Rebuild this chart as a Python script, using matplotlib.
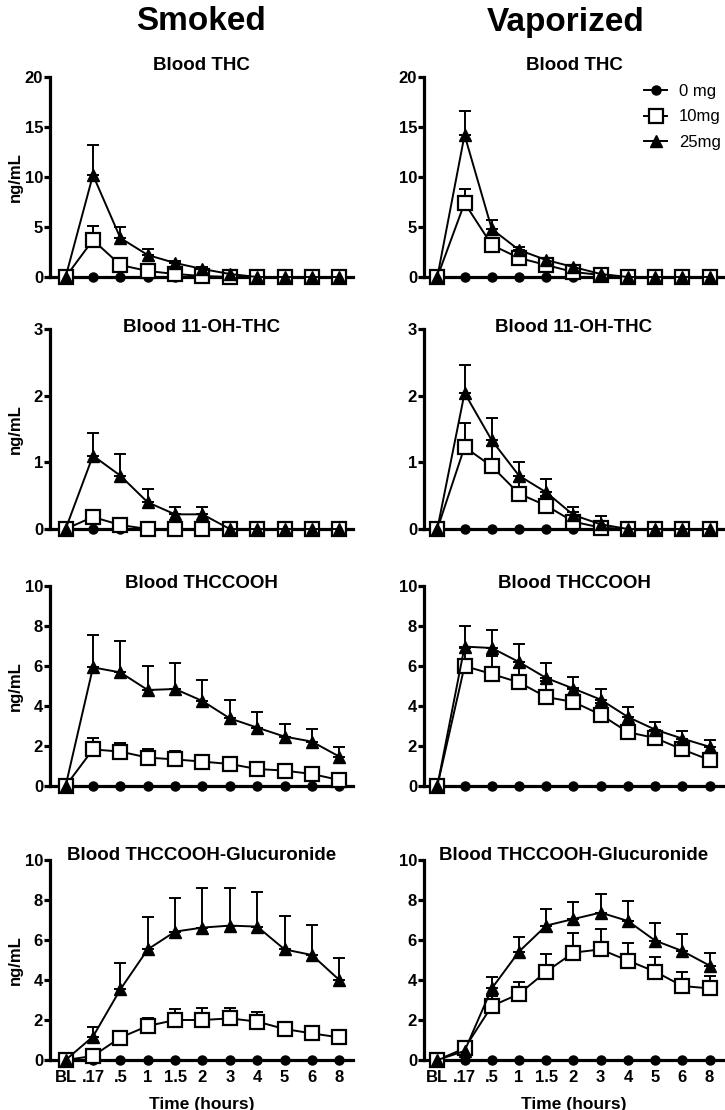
import numpy as np
import matplotlib
matplotlib.use('Agg')
import matplotlib.pyplot as plt

plt.rcParams['font.family'] = ['Liberation Sans', 'DejaVu Sans']

# ---------------- data ----------------
time_labels = ['BL', '.17', '.5', '1', '1.5', '2', '3', '4', '5', '6', '8']
column_titles = ['Smoked', 'Vaporized']
row_titles = ['Blood THC', 'Blood 11-OH-THC', 'Blood THCCOOH', 'Blood THCCOOH-Glucuronide']
dose_labels = ['0 mg', '10mg', '25mg']
row_yticks = [[0, 5, 10, 15, 20], [0, 1, 2, 3], [0, 2, 4, 6, 8, 10], [0, 2, 4, 6, 8, 10]]
y_label = 'ng/mL'
x_label = 'Time (hours)'

placebo = [0, 0, 0, 0, 0, 0, 0, 0, 0, 0, 0]

# Blood THC
smk_thc_10 = [0, 3.7, 1.2, 0.6, 0.3, 0.1, 0, 0, 0, 0, 0]
smk_thc_10_err = [0, 1.4, 0.15, 0.1, 0.05, 0, 0, 0, 0, 0, 0]
smk_thc_25 = [0, 10.2, 3.9, 2.2, 1.4, 0.8, 0.3, 0, 0, 0, 0]
smk_thc_25_err = [0, 3.0, 1.1, 0.6, 0.25, 0.2, 0.05, 0, 0, 0, 0]
vap_thc_10 = [0, 7.4, 3.2, 1.9, 1.2, 0.5, 0.2, 0, 0, 0, 0]
vap_thc_10_err = [0, 1.4, 0.3, 0.2, 0.15, 0.1, 0, 0, 0, 0, 0]
vap_thc_25 = [0, 14.2, 4.8, 2.7, 1.7, 1.0, 0.3, 0, 0, 0, 0]
vap_thc_25_err = [0, 2.4, 0.9, 0.3, 0.2, 0.15, 0.05, 0, 0, 0, 0]

# Blood 11-OH-THC
smk_oh_10 = [0, 0.18, 0.06, 0, 0, 0, 0, 0, 0, 0, 0]
smk_oh_10_err = [0, 0.04, 0.02, 0, 0, 0, 0, 0, 0, 0, 0]
smk_oh_25 = [0, 1.1, 0.8, 0.4, 0.22, 0.22, 0, 0, 0, 0, 0]
smk_oh_25_err = [0, 0.34, 0.32, 0.2, 0.11, 0.11, 0, 0, 0, 0, 0]
vap_oh_10 = [0, 1.23, 0.94, 0.53, 0.35, 0.11, 0.02, 0, 0, 0, 0]
vap_oh_10_err = [0, 0.36, 0.3, 0.18, 0.15, 0.15, 0.05, 0, 0, 0, 0]
vap_oh_25 = [0, 2.04, 1.33, 0.8, 0.55, 0.21, 0.07, 0, 0, 0, 0]
vap_oh_25_err = [0, 0.42, 0.34, 0.2, 0.2, 0.12, 0.12, 0, 0, 0, 0]

# Blood THCCOOH
smk_cooh_10 = [0, 1.83, 1.72, 1.42, 1.33, 1.22, 1.1, 0.85, 0.77, 0.6, 0.3]
smk_cooh_10_err = [0, 0.55, 0.45, 0.41, 0.42, 0.3, 0.28, 0.15, 0.12, 0.1, 0.08]
smk_cooh_25 = [0, 5.93, 5.68, 4.8, 4.85, 4.25, 3.38, 2.92, 2.47, 2.22, 1.47]
smk_cooh_25_err = [0, 1.6, 1.55, 1.2, 1.3, 1.05, 0.92, 0.76, 0.61, 0.61, 0.5]
vap_cooh_10 = [0, 6.0, 5.6, 5.18, 4.45, 4.2, 3.57, 2.69, 2.4, 1.83, 1.3]
vap_cooh_10_err = [0, 0.9, 0.9, 0.7, 0.8, 0.7, 0.6, 0.4, 0.4, 0.35, 0.3]
vap_cooh_25 = [0, 6.97, 6.9, 6.2, 5.4, 4.87, 4.32, 3.45, 2.82, 2.37, 1.96]
vap_cooh_25_err = [0, 1.03, 0.9, 0.9, 0.75, 0.6, 0.53, 0.48, 0.37, 0.37, 0.33]

# Blood THCCOOH-Glucuronide
smk_gluc_10 = [0, 0.2, 1.12, 1.7, 2.0, 2.0, 2.08, 1.92, 1.55, 1.33, 1.13]
smk_gluc_10_err = [0, 0.1, 0.1, 0.42, 0.53, 0.58, 0.54, 0.5, 0.37, 0.25, 0.1]
smk_gluc_25 = [0, 1.17, 3.53, 5.53, 6.42, 6.62, 6.72, 6.67, 5.53, 5.25, 4.0]
smk_gluc_25_err = [0, 0.5, 1.34, 1.64, 1.7, 1.96, 1.86, 1.75, 1.67, 1.5, 1.12]
vap_gluc_10 = [0, 0.58, 2.7, 3.3, 4.42, 5.37, 5.53, 4.97, 4.42, 3.7, 3.58]
vap_gluc_10_err = [0, 0.1, 0.5, 0.62, 0.86, 1.0, 1.0, 0.86, 0.71, 0.68, 0.62]
vap_gluc_25 = [0, 0.45, 3.58, 5.42, 6.72, 7.05, 7.37, 6.95, 5.97, 5.45, 4.72]
vap_gluc_25_err = [0, 0.05, 0.59, 0.75, 0.81, 0.87, 0.93, 1.0, 0.9, 0.83, 0.61]

panels = [
    [(smk_thc_10, smk_thc_10_err, smk_thc_25, smk_thc_25_err),
     (vap_thc_10, vap_thc_10_err, vap_thc_25, vap_thc_25_err)],
    [(smk_oh_10, smk_oh_10_err, smk_oh_25, smk_oh_25_err),
     (vap_oh_10, vap_oh_10_err, vap_oh_25, vap_oh_25_err)],
    [(smk_cooh_10, smk_cooh_10_err, smk_cooh_25, smk_cooh_25_err),
     (vap_cooh_10, vap_cooh_10_err, vap_cooh_25, vap_cooh_25_err)],
    [(smk_gluc_10, smk_gluc_10_err, smk_gluc_25, smk_gluc_25_err),
     (vap_gluc_10, vap_gluc_10_err, vap_gluc_25, vap_gluc_25_err)],
]

# ---------------- layout ----------------
W, H = 725, 1110
fig = plt.figure(figsize=(W / 100, H / 100), dpi=100)

col_left = [50, 424]
col_right = [353, 724]
col_xlim = [(-0.57, 10.5), (-0.49, 10.53)]
row_bottom = [277, 529, 786, 1060]
row_height = 200
title_offset = [11, 2, 2, 5]

LW_SPINE = 2.3
LW = 1.4
MS_C, MS_S, MS_T = 6.5, 9.5, 8.5
x = np.arange(len(time_labels))

for r in range(4):
    for c in range(2):
        l = col_left[c] / W
        w = (col_right[c] - col_left[c]) / W
        b = 1 - row_bottom[r] / H
        h = row_height / H
        ax = fig.add_axes([l, b, w, h])
        m10, e10, m25, e25 = [np.array(a, dtype=float) for a in panels[r][c]]
        yt = row_yticks[r]

        ax.plot(x, placebo, '-', color='black', lw=LW, marker='o', ms=MS_C,
                mfc='black', mec='black', clip_on=False, zorder=3)
        # 10 mg
        msk = e10 > 0
        ax.errorbar(x[msk], m10[msk], yerr=[np.zeros(msk.sum()), e10[msk]], fmt='none',
                    ecolor='black', elinewidth=LW, capsize=4.5, capthick=LW,
                    clip_on=False, zorder=2)
        ax.plot(x, m10, '-', color='black', lw=LW, marker='s', ms=MS_S,
                mfc='white', mec='black', mew=1.6, clip_on=False, zorder=4)
        # 25 mg
        msk = e25 > 0
        ax.errorbar(x[msk], m25[msk], yerr=[np.zeros(msk.sum()), e25[msk]], fmt='none',
                    ecolor='black', elinewidth=LW, capsize=4.5, capthick=LW,
                    clip_on=False, zorder=2)
        ax.plot(x, m25, '-', color='black', lw=LW, marker='^', ms=MS_T,
                mfc='black', mec='black', clip_on=False, zorder=5)

        ax.set_xlim(*col_xlim[c])
        ax.set_ylim(0, yt[-1])
        ax.set_yticks(yt)
        ax.set_yticklabels([str(v) for v in yt], fontsize=12, fontweight='bold')
        ax.set_xticks(x)
        if r == 3:
            ax.set_xticklabels(time_labels, fontsize=12, fontweight='bold')
            ax.set_xlabel(x_label, fontsize=12.5, fontweight='bold', labelpad=9)
        else:
            ax.set_xticklabels([])
        for s in ['top', 'right']:
            ax.spines[s].set_visible(False)
        for s in ['left', 'bottom']:
            ax.spines[s].set_linewidth(LW_SPINE)
        ax.tick_params(axis='y', direction='out', length=4, width=LW_SPINE, pad=1)
        ax.tick_params(axis='x', direction='out', length=0, width=LW_SPINE, pad=7)
        ax.patch.set_alpha(0)

        ax.text(0.5, 1 + title_offset[r] / row_height, row_titles[r], transform=ax.transAxes,
                ha='center', va='center', fontsize=13.5, fontweight='bold')
        if c == 0:
            fig.text(15 / W, 1 - (row_bottom[r] - row_height / 2) / H, y_label,
                     rotation=90, ha='center', va='center', fontsize=12, fontweight='bold')
        if r == 0 and c == 1:
            handles = [
                plt.Line2D([], [], color='black', lw=LW, marker='o', ms=MS_C, mfc='black'),
                plt.Line2D([], [], color='black', lw=LW, marker='s', ms=MS_S, mfc='white', mew=1.6),
                plt.Line2D([], [], color='black', lw=LW, marker='^', ms=MS_T, mfc='black'),
            ]
            fig.legend(handles, dose_labels, loc='upper left',
                       bbox_to_anchor=(644 / W, 1 - 84 / H), frameon=False,
                       fontsize=12, handlelength=1.4, handletextpad=0.7,
                       labelspacing=0.62, borderpad=0, borderaxespad=0)

# column headers
fig.text(201 / W, 1 - 22 / H, column_titles[0], ha='center', va='center',
         fontsize=24, fontweight='bold')
fig.text(566 / W, 1 - 22 / H, column_titles[1], ha='center', va='center',
         fontsize=24, fontweight='bold')

fig.savefig('out.png', dpi=100)
